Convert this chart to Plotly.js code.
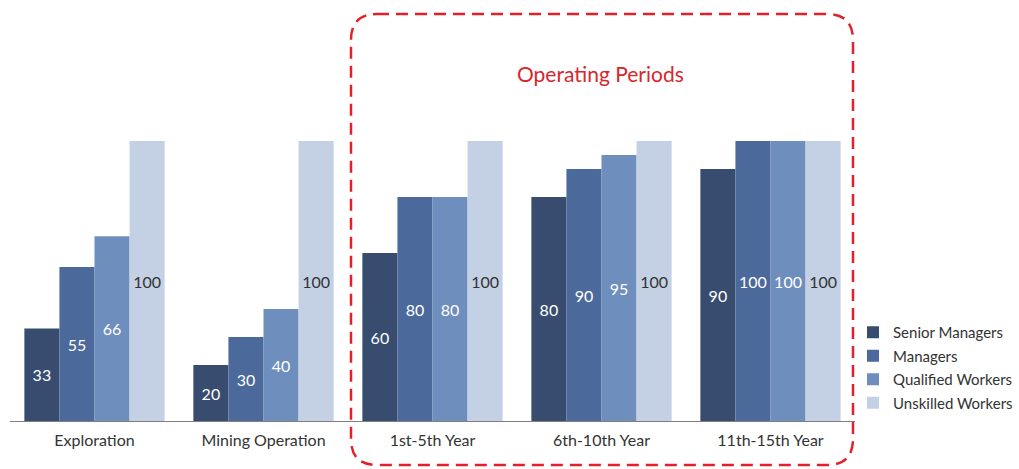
<!DOCTYPE html>
<html>
<head>
<meta charset="utf-8">
<script src="https://cdn.plot.ly/plotly-3.0.1.min.js"></script>
<style>html,body{margin:0;padding:0;background:#fff;}#chart{width:1019px;height:469px;}</style>
</head>
<body>
<div id="chart"></div>
<script>
const categories = ["Exploration", "Mining Operation", "1st-5th Year", "6th-10th Year", "11th-15th Year"];
const seriesNames = ["Senior Managers", "Managers", "Qualified Workers", "Unskilled Workers"];
const seniorManagers = [33, 20, 60, 80, 90];
const managers = [55, 30, 80, 90, 100];
const qualifiedWorkers = [66, 40, 80, 95, 100];
const unskilledWorkers = [100, 100, 100, 100, 100];
const highlightTitle = "Operating Periods";

const colors = ["#374c6e", "#4b699b", "#6e8ebe", "#c4d0e3"];
const textColors = ["#ffffff", "#ffffff", "#ffffff", "#333333"];
const allSeries = [seniorManagers, managers, qualifiedWorkers, unskilledWorkers];

const font = "Lato, 'Open Sans', sans-serif";

const traces = allSeries.map((vals, i) => ({
  type: "bar",
  name: seriesNames[i],
  x: categories,
  y: vals,
  text: vals.map(String),
  textposition: "inside",
  insidetextanchor: "middle",
  textangle: 0,
  insidetextfont: {family: font, size: 16, color: textColors[i]},
  marker: {color: colors[i], line: {width: 0}},
  legendgroup: "g" + i,
  hoverinfo: "x+y+name",
  cliponaxis: false
}));

// Rounded dashed rectangle in paper coords
const L = 10, R = 855, B = 421, T = 141;
const px = v => (v - L) / (R - L);
const py = v => (B - v) / (B - T);
const x0 = 351, x1 = 853, y0 = 14, y1 = 465, r = 26;
const path = [
  "M", px(x0 + r), py(y0),
  "L", px(x1 - r), py(y0),
  "Q", px(x1), py(y0), px(x1), py(y0 + r),
  "L", px(x1), py(y1 - r),
  "Q", px(x1), py(y1), px(x1 - r), py(y1),
  "L", px(x0 + r), py(y1),
  "Q", px(x0), py(y1), px(x0), py(y1 - r),
  "L", px(x0), py(y0 + r),
  "Q", px(x0), py(y0), px(x0 + r), py(y0),
  "Z"
].join(" ");

const layout = {
  width: 1019,
  height: 469,
  margin: {l: L, r: 1019 - R, t: T, b: 469 - B, autoexpand: false},
  paper_bgcolor: "#ffffff",
  plot_bgcolor: "#ffffff",
  barmode: "group",
  bargap: 0.17,
  bargroupgap: 0,
  font: {family: font, color: "#333333"},
  xaxis: {
    type: "category",
    showline: true,
    linecolor: "#7f7f7f",
    linewidth: 1,
    ticks: "",
    showgrid: false,
    tickfont: {family: font, size: 16, color: "#333333"},
    ticklabelstandoff: 5,
    fixedrange: true
  },
  yaxis: {
    range: [0, 100],
    visible: false,
    showgrid: false,
    zeroline: false,
    fixedrange: true
  },
  showlegend: true,
  legend: {
    x: px(853),
    y: py(316),
    xanchor: "left",
    yanchor: "top",
    font: {family: font, size: 15, color: "#333333"},
    tracegroupgap: 1,
    itemwidth: 30,
    bgcolor: "rgba(0,0,0,0)"
  },
  shapes: [{
    type: "path",
    xref: "paper",
    yref: "paper",
    path: path,
    line: {color: "#e3202a", width: 2.5, dash: "12px,7px"},
    fillcolor: "rgba(0,0,0,0)",
    layer: "above"
  }],
  annotations: [{
    xref: "paper",
    yref: "paper",
    x: px(600),
    y: py(74),
    text: highlightTitle,
    showarrow: false,
    font: {family: font, size: 21, color: "#d7262e"},
    xanchor: "center",
    yanchor: "middle"
  }]
};

Plotly.newPlot("chart", traces, layout, {displayModeBar: false, staticPlot: true});
</script>
</body>
</html>
